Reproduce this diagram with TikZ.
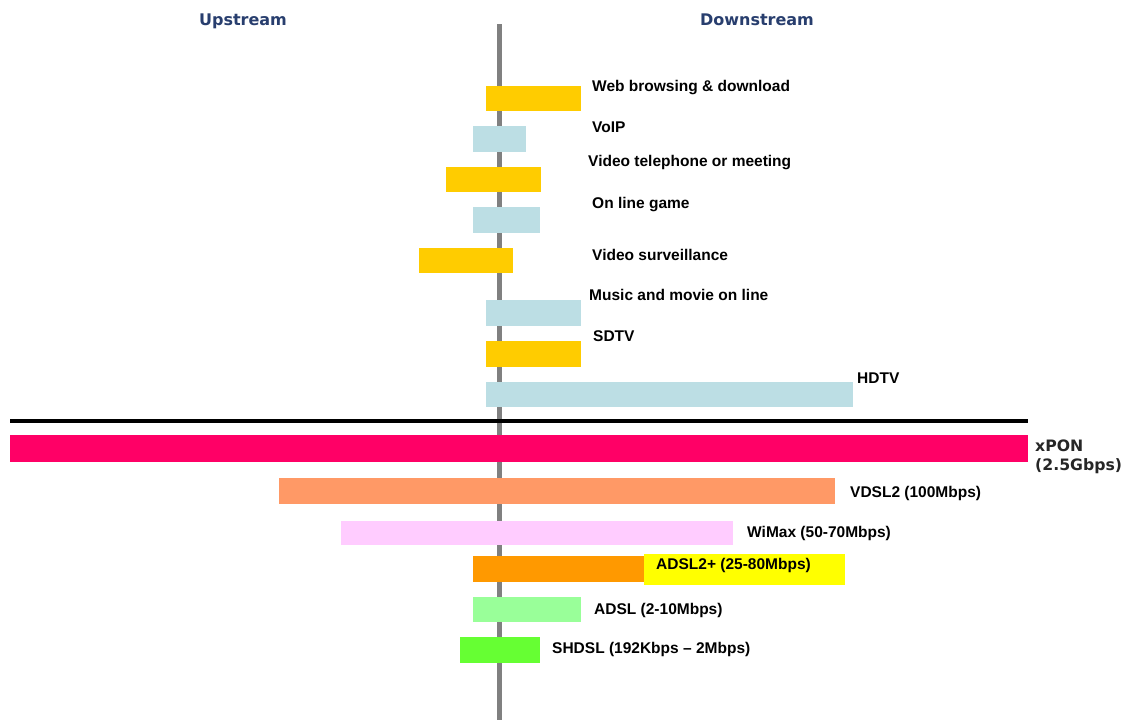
\documentclass[tikz,border=0pt]{standalone}
\usepackage{fontspec}
\setmainfont{Liberation Sans}
\newfontfamily\headfont{DejaVu Sans}
\definecolor{barYellow}{HTML}{FFCC00}
\definecolor{barBlue}{RGB}{188,222,228}
\definecolor{ponRed}{HTML}{FF0066}
\definecolor{vdslSalmon}{HTML}{FF9966}
\definecolor{wimaxPink}{HTML}{FFCCFF}
\definecolor{adslOrange}{HTML}{FF9900}
\definecolor{adslYellow}{HTML}{FFFF00}
\definecolor{adslGreen}{HTML}{99FF99}
\definecolor{shdslGreen}{HTML}{66FF33}
\definecolor{axisGray}{HTML}{808080}
\definecolor{headBlue}{RGB}{40,62,110}
\tikzset{
  lbl/.style={anchor=base west, inner sep=0pt, font=\fontsize{15.5}{17}\selectfont\bfseries, text=black},
  wide/.style={anchor=base west, inner sep=0pt, font=\headfont\fontsize{15.7}{17}\selectfont\bfseries, text=black!85},
  head/.style={anchor=base, inner sep=0pt, font=\headfont\fontsize{16}{18}\selectfont\bfseries, text=headBlue},
}
\begin{document}
\begin{tikzpicture}[x=1pt,y=-1pt]
\useasboundingbox[fill=white] (0,0) rectangle (1123,720);

% headings
\node[head] (up) at (243,25) {Upstream};
\node[head] (down) at (757,25) {Downstream};

% centre axis
\fill[axisGray] (497,24) rectangle (502,720);

% separator between applications and access technologies
\fill[black] (10,419) rectangle (1028,423);

% application bandwidth demands
\fill[barYellow] (486,86) rectangle (581,111);
\fill[barBlue]   (473,126) rectangle (526,152);
\fill[barYellow] (446,167) rectangle (541,192);
\fill[barBlue]   (473,207) rectangle (540,233);
\fill[barYellow] (419,248) rectangle (513,273);
\fill[barBlue]   (486,300) rectangle (581,326);
\fill[barYellow] (486,341) rectangle (581,367);
\fill[barBlue]   (486,382) rectangle (853,407);

\node[lbl] (web)   at (592,91)  {Web browsing \& download};
\node[lbl] (voip)  at (592,132) {VoIP};
\node[lbl] (vtel)  at (588,166) {Video telephone or meeting};
\node[lbl] (game)  at (592,208) {On line game};
\node[lbl] (surv)  at (592,260) {Video surveillance};
\node[lbl] (music) at (589,300) {Music and movie on line};
\node[lbl] (sdtv)  at (593,341) {SDTV};
\node[lbl] (hdtv)  at (857,383) {HDTV};

% access technology capacities
\fill[ponRed]      (10,435) rectangle (1028,462);
\fill[vdslSalmon]  (279,478) rectangle (835,504);
\fill[wimaxPink]   (341,521) rectangle (733,545);
\fill[adslOrange]  (473,556) rectangle (644,582);
\fill[adslYellow]  (644,554) rectangle (845,585);
\fill[adslGreen]   (473,597) rectangle (581,622);
\fill[shdslGreen]  (460,637) rectangle (540,663);

\node[wide] (xpon)  at (1035,451) {xPON};
\node[wide] (xponr) at (1035,470) {(2.5Gbps)};
\node[lbl] (vdsl)  at (850,497) {VDSL2 (100Mbps)};
\node[lbl] (wimax) at (747,537) {WiMax (50-70Mbps)};
\node[lbl] (adsl2) at (656,569) {ADSL2+ (25-80Mbps)};
\node[lbl] (adsl)  at (594,614) {ADSL (2-10Mbps)};
\node[lbl] (shdsl) at (552,653) {SHDSL (192Kbps – 2Mbps)};
\end{tikzpicture}
\end{document}
